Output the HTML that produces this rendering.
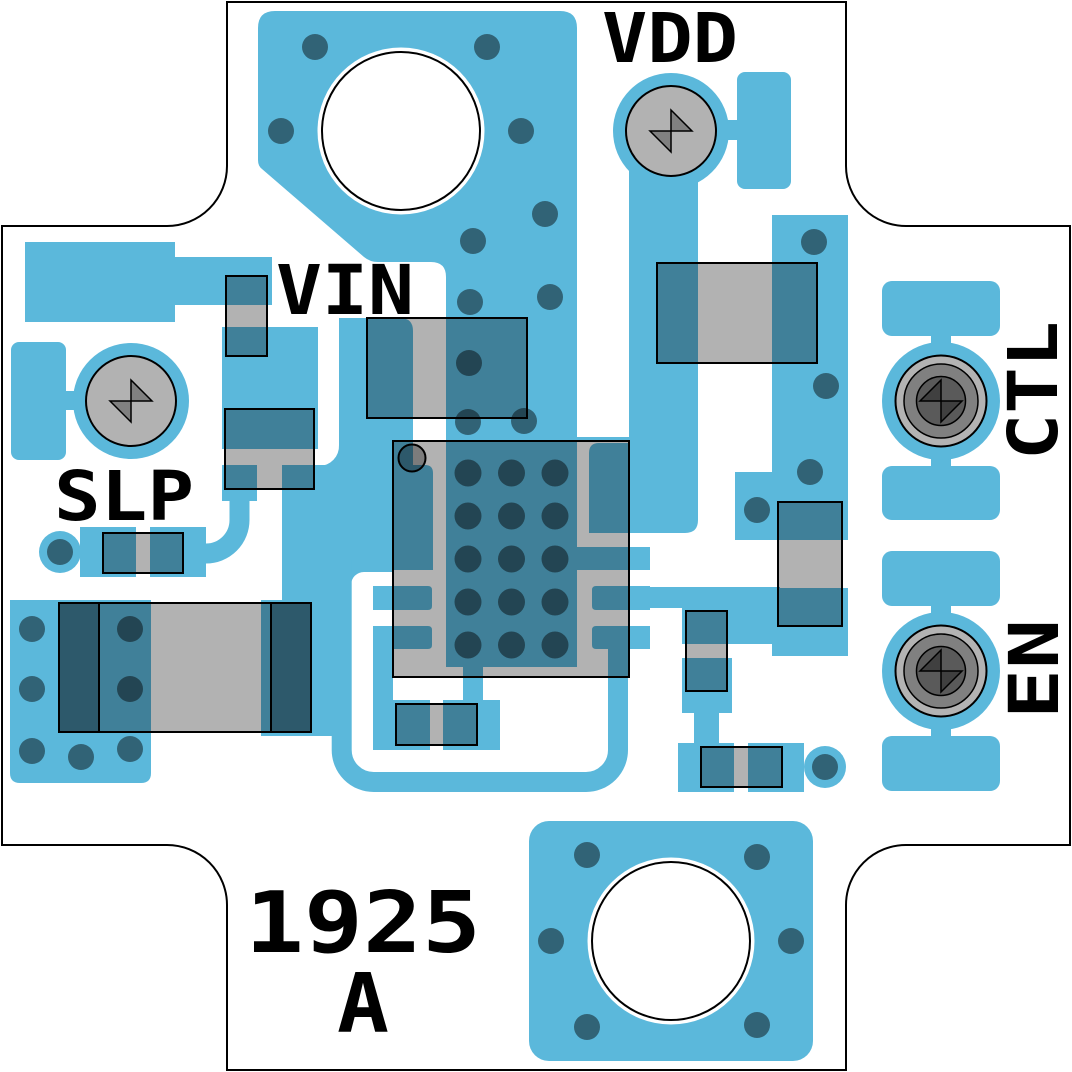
<!DOCTYPE html>
<html><head><meta charset="utf-8"><style>
html,body{margin:0;padding:0;background:#fff}
svg{display:block}
.m{mix-blend-mode:multiply}
text{font-family:"DejaVu Sans Mono","Liberation Mono",monospace;font-weight:bold;fill:#000}
</style></head><body>
<svg width="1072" height="1072" viewBox="0 0 1072 1072" xmlns="http://www.w3.org/2000/svg">
<defs>
<pattern id="g" x="454.5" y="459.5" width="43.5" height="43" patternUnits="userSpaceOnUse"><circle cx="13.5" cy="13.5" r="13.5" fill="#898989"/></pattern>
</defs>
<rect width="1072" height="1072" fill="#fff"/>
<path d="M227,2 H846 V166 A60,60 0 0 0 906,226 H1070 V845 H906 A60,60 0 0 0 846,905 V1070 H227 V905 A60,60 0 0 0 167,845 H2 V226 H167 A60,60 0 0 0 227,166 Z" fill="#fff" stroke="#000" stroke-width="2"/>
<g fill="#5bb8db">
<path d="M258,28 Q258,11 275,11 H560 Q577,11 577,28 V441 H446 V277 Q446,262 431,262 H378 Q370,262 364,257 L262,169 Q258,166 258,160 Z"/>
<path d="M446,430 h131 v237 h-131 Z M577,437 h52 v4 h-52 Z"/>
<path d="M339,318 H400 Q413,318 413,331 V470 H339 Z"/>
<path d="M339,445 V466 H319 A20,20 0 0 0 339,445 Z"/>
<path d="M282,465 h111 v107 h-111 Z M393,465 H425 Q433,465 433,473 V570 H393 Z M261,600 h71 v136 h-71 Z M282,465 h50 v271 h-50 Z"/>
<path d="M341.7,560 V750 A32,32 0 0 0 373.7,782 H586 A32,32 0 0 0 618,750 V640" fill="none" stroke="#5bb8db" stroke-width="20"/>
<path d="M351,572 V585 A13,13 0 0 1 364,572 Z"/>
<path d="M373,586 H428 Q432,586 432,590 V606 Q432,610 428,610 H373 Z M373,626 H428 Q432,626 432,630 V645 Q432,649 428,649 H373 Z"/>
<path d="M373,626 h20 v124 h-20 Z M373,700 h57 v50 h-57 Z M443,700 h57 v50 h-57 Z M463,660 h20 v42 h-20 Z"/>
<path d="M650,586 H596 Q592,586 592,590 V606 Q592,610 596,610 H650 Z M650,626 H596 Q592,626 592,630 V645 Q592,649 596,649 H650 Z"/>
<path d="M577,547 h73 v23 h-73 Z M640,587 h140 v21 h-140 Z M682,606 h92 v38 h-92 Z M772,588 h76 v68 h-76 Z"/>
<circle cx="671" cy="131" r="58"/>
<path d="M629,131 H698 V520 Q698,533 685,533 H589 V453 Q589,443 599,443 H629 Z"/>
<path d="M724,120 h16 v20 h-16 Z M772,215 h76 v325 h-76 Z M735,472 h40 v68 h-40 Z"/>
<rect x="737" y="72" width="54" height="117" rx="8"/>
<path d="M682,658 h50 v55 h-50 Z M694,710 h25 v36 h-25 Z M678,743 h56 v49 h-56 Z M748,743 h56 v49 h-56 Z"/>
<circle cx="825" cy="767" r="21"/>
<rect x="882" y="281" width="118" height="55" rx="10"/>
<rect x="882" y="466" width="118" height="54" rx="10"/>
<rect x="882" y="551" width="118" height="55" rx="10"/>
<rect x="882" y="736" width="118" height="55" rx="10"/>
<path d="M931,330 h20 v140 h-20 Z M931,600 h20 v140 h-20 Z"/>
<circle cx="941" cy="401" r="59"/>
<circle cx="941" cy="671" r="59"/>
<path d="M25,242 h150 v80 h-150 Z M170,257 h102 v48 h-102 Z M222,327 h96 v122 h-96 Z M222,465 h35 v36 h-35 Z"/>
<path d="M239.5,495 V520 A33.5,33.5 0 0 1 206,553.5 H195" fill="none" stroke="#5bb8db" stroke-width="20"/>
<rect x="11" y="342" width="55" height="118" rx="8"/>
<path d="M60,391 h20 v19 h-20 Z M80,527 h56 v50 h-56 Z M150,527 h56 v50 h-56 Z"/>
<circle cx="131" cy="401" r="58"/>
<circle cx="60" cy="552" r="21"/>
<path d="M10,600 H151 V773 Q151,783 141,783 H20 Q10,783 10,773 Z"/>
<rect x="529" y="821" width="284" height="240" rx="20"/>
</g>
<circle cx="401" cy="131" r="83.5" fill="#fff"/>
<circle cx="401" cy="131" r="79" fill="none" stroke="#000" stroke-width="2"/>
<circle cx="671" cy="941" r="83.5" fill="#fff"/>
<circle cx="671" cy="941" r="79" fill="none" stroke="#000" stroke-width="2"/>
<path class="m" fill="#898989" d="M302,47a13,13 0 1 0 26,0a13,13 0 1 0 -26,0 M474,47a13,13 0 1 0 26,0a13,13 0 1 0 -26,0 M268,131a13,13 0 1 0 26,0a13,13 0 1 0 -26,0 M508,131a13,13 0 1 0 26,0a13,13 0 1 0 -26,0 M532,214a13,13 0 1 0 26,0a13,13 0 1 0 -26,0 M460,241a13,13 0 1 0 26,0a13,13 0 1 0 -26,0 M537,297a13,13 0 1 0 26,0a13,13 0 1 0 -26,0 M457,302a13,13 0 1 0 26,0a13,13 0 1 0 -26,0 M456,363a13,13 0 1 0 26,0a13,13 0 1 0 -26,0 M455,422a13,13 0 1 0 26,0a13,13 0 1 0 -26,0 M511,421a13,13 0 1 0 26,0a13,13 0 1 0 -26,0 M801,242a13,13 0 1 0 26,0a13,13 0 1 0 -26,0 M813,386a13,13 0 1 0 26,0a13,13 0 1 0 -26,0 M797,472a13,13 0 1 0 26,0a13,13 0 1 0 -26,0 M744,510a13,13 0 1 0 26,0a13,13 0 1 0 -26,0 M19,629a13,13 0 1 0 26,0a13,13 0 1 0 -26,0 M19,689a13,13 0 1 0 26,0a13,13 0 1 0 -26,0 M19,751a13,13 0 1 0 26,0a13,13 0 1 0 -26,0 M68,757a13,13 0 1 0 26,0a13,13 0 1 0 -26,0 M117,749a13,13 0 1 0 26,0a13,13 0 1 0 -26,0 M117,629a13,13 0 1 0 26,0a13,13 0 1 0 -26,0 M117,689a13,13 0 1 0 26,0a13,13 0 1 0 -26,0 M574,855a13,13 0 1 0 26,0a13,13 0 1 0 -26,0 M744,857a13,13 0 1 0 26,0a13,13 0 1 0 -26,0 M538,941a13,13 0 1 0 26,0a13,13 0 1 0 -26,0 M778,941a13,13 0 1 0 26,0a13,13 0 1 0 -26,0 M574,1027a13,13 0 1 0 26,0a13,13 0 1 0 -26,0 M744,1025a13,13 0 1 0 26,0a13,13 0 1 0 -26,0 M47,552a13,13 0 1 0 26,0a13,13 0 1 0 -26,0 M812,767a13,13 0 1 0 26,0a13,13 0 1 0 -26,0"/>
<rect class="m" x="454.5" y="459.5" width="114" height="199" fill="url(#g)"/>
<g fill="#b2b2b2" stroke="#000" stroke-width="2">
<path class="m" d="M226,276 h41 v80 h-41 Z M225,409 h89 v80 h-89 Z M367,318 h160 v100 h-160 Z M657,263 h160 v100 h-160 Z M778,502 h64 v124 h-64 Z M686,611 h41 v80 h-41 Z M701,747 h81 v40 h-81 Z M396,704 h81 v41 h-81 Z M103,533 h80 v40 h-80 Z"/>
<rect class="m" x="393" y="441" width="236" height="236"/>
<circle class="m" cx="412" cy="458" r="13.5"/>
<rect class="m" x="59" y="603" width="252" height="129"/>
<path class="m" d="M59,603 h40 v129 h-40 Z M271,603 h40 v129 h-40 Z"/>
</g>
<g stroke="#000">
<circle cx="671" cy="131" r="45" fill="#b2b2b2" stroke-width="2"/>
<path d="M671,110 L692,131 L671,131 Z M650,131 L671,131 L671,152 Z" fill="#808080" stroke-width="1.5"/>
<circle cx="131" cy="401" r="45" fill="#b2b2b2" stroke-width="2"/>
<path d="M131,380 L152,401 L131,401 Z M110,401 L131,401 L131,422 Z" fill="#808080" stroke-width="1.5"/>
<circle cx="941" cy="401" r="45.5" fill="#b3b3b3" stroke-width="2"/>
<circle cx="941" cy="401" r="37" fill="#808080" stroke-width="1.5"/>
<circle cx="941" cy="401" r="24.5" fill="#5a5a5a" stroke-width="1.5"/>
<path d="M920,401 L941,380 L941,401 Z M941,401 L962,401 L941,422 Z" fill="#404040" stroke-width="1.5"/>
<circle cx="941" cy="671" r="45.5" fill="#b3b3b3" stroke-width="2"/>
<circle cx="941" cy="671" r="37" fill="#808080" stroke-width="1.5"/>
<circle cx="941" cy="671" r="24.5" fill="#5a5a5a" stroke-width="1.5"/>
<path d="M920,671 L941,650 L941,671 Z M941,671 L962,671 L941,692 Z" fill="#404040" stroke-width="1.5"/>
</g>
<text x="602" y="62" font-size="69" textLength="136" lengthAdjust="spacingAndGlyphs">VDD</text>
<text x="276" y="314" font-size="69" textLength="138" lengthAdjust="spacingAndGlyphs">VIN</text>
<text x="54" y="520" font-size="69" textLength="140" lengthAdjust="spacingAndGlyphs">SLP</text>
<text x="245" y="952" font-size="85" textLength="236" lengthAdjust="spacingAndGlyphs">1925</text>
<text x="337" y="1032" font-size="82" textLength="52" lengthAdjust="spacingAndGlyphs">A</text>
<text transform="translate(1057,460) rotate(-90)" font-size="69" textLength="139" lengthAdjust="spacingAndGlyphs">CTL</text>
<text transform="translate(1058,719) rotate(-90)" font-size="69" textLength="100" lengthAdjust="spacingAndGlyphs">EN</text>
</svg>
</body></html>
